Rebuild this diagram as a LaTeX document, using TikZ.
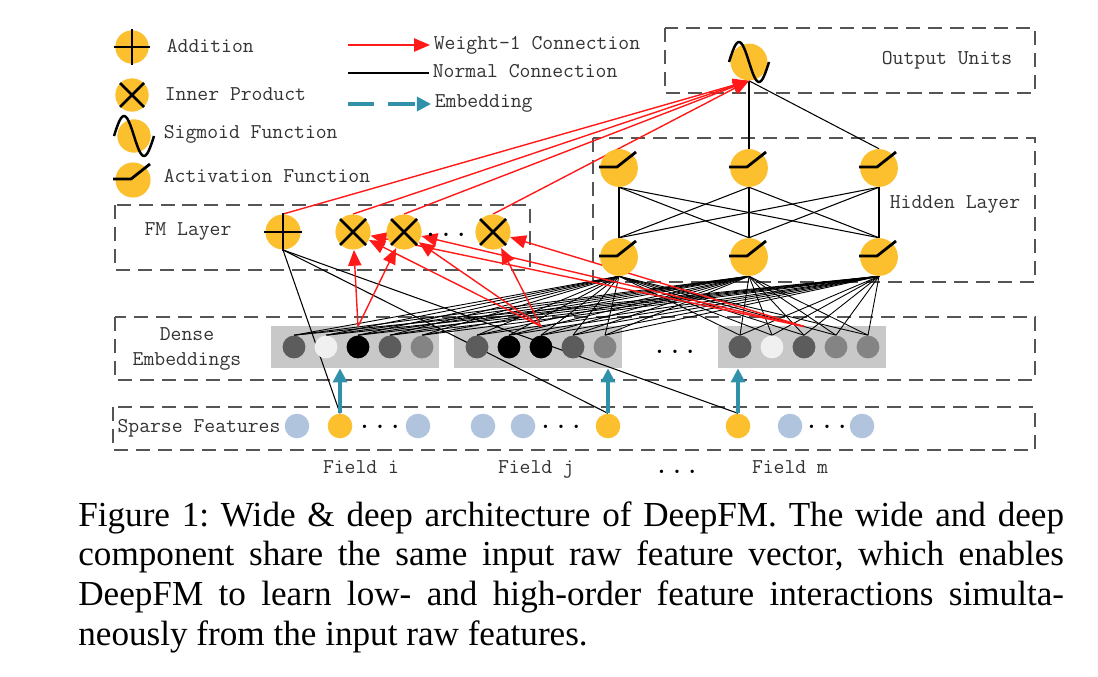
\documentclass[tikz,border=0pt]{standalone}
\usepackage{fontspec}
\newfontfamily\capfont{Liberation Serif}
\newcommand\labelfont{\ttfamily}
\usetikzlibrary{arrows.meta}

\definecolor{dfyellow}{RGB}{252,191,45}
\definecolor{dfred}{RGB}{255,25,25}
\definecolor{dfteal}{RGB}{50,145,170}
\definecolor{dfblue}{RGB}{176,196,222}
\definecolor{framegray}{RGB}{85,85,85}
\definecolor{embgray}{RGB}{200,200,200}
\definecolor{dkg}{RGB}{92,92,92}
\definecolor{mdg}{RGB}{132,132,132}
\definecolor{plg}{RGB}{240,240,240}

\pgfdeclarelayer{bg}
\pgfdeclarelayer{wires}
\pgfsetlayers{bg,wires,main}

\tikzset{
  yunit/.style={circle, fill=dfyellow, inner sep=0pt, minimum size=#1},
  yunit/.default=20pt,
  sym/.style={draw=black, line width=1.6pt},
  densecirc/.style={circle, inner sep=0pt, minimum size=13pt},
  sparsecirc/.style={circle, inner sep=0pt, minimum size=14pt},
  embgroup/.style={fill=embgray, inner sep=0pt, minimum width=96pt, minimum height=24pt},
  layerbox/.style={draw=framegray, line width=1.3pt, dash pattern=on 8pt off 4.5pt},
  txt/.style={font=\labelfont\fontsize{12}{14}\selectfont, text=black!80, inner sep=2pt, text height=8pt, text depth=1.5pt},
  dotsnode/.style={font=\labelfont\fontsize{17}{17}\selectfont, inner sep=0pt},
  plainwire/.style={draw=black, line width=0.6pt},
  weightwire/.style={draw=dfred, line width=0.8pt, -{Triangle[length=9pt,width=7.5pt]}},
  embedwire/.style={draw=dfteal, line width=1.8pt, -{Triangle[length=8pt,width=8pt]}},
  capnode/.style={font=\capfont\fontsize{20}{22.7}\selectfont\frenchspacing, text width=561pt, align=justify, inner sep=0pt},
}

% symbols drawn on top of the yellow units
\newcommand\addsym[2]{\draw[sym, shift={(#1)}] (-#2,0) -- (#2,0) (0,-#2) -- (0,#2);}
\newcommand\mulsym[2]{\draw[sym, shift={(#1)}] (-#2,-#2) -- (#2,#2) (-#2,#2) -- (#2,-#2);}
\newcommand\sigsym[2]{\draw[sym, line width=1.4pt, shift={(#1)}] plot[domain=-#2:#2, samples=31, smooth] (\x,{-#2*sin(180*(\x/#2+1))});}
\newcommand\actsym[2]{\draw[sym, line join=round, shift={(#1)}] (-#2-1,-1) -- (-2,-1) -- (#2-2,-#2+3);}

\begin{document}
\begin{tikzpicture}[x=0.02cm, y=-0.02cm]
\useasboundingbox (0,0) rectangle (1098,676);

% legend
\node[yunit=19pt] (lgadd) at (132,47) {};
\node[yunit=19pt] (lgmul) at (132,95) {};
\node[yunit=19pt] (lgsig) at (134,136) {};
\node[yunit=20pt] (lgact) at (133,180) {};
\addsym{lgadd}{18}
\mulsym{lgmul}{12}
\sigsym{lgsig}{20}
\actsym{lgact}{19}
\node[txt, anchor=west] (lgaddtxt) at (163,47) {Addition};
\node[txt, anchor=west] (lgmultxt) at (161,95) {Inner Product};
\node[txt, anchor=west] (lgsigtxt) at (160,133) {Sigmoid Function};
\node[txt, anchor=west] (lgacttxt) at (160,177) {Activation Function};

\coordinate (lgw) at (348,45);
\coordinate (lgn) at (348,73);
\coordinate (lge) at (348,104);
\node[txt, anchor=west] (lgwtxt) at (430,44) {Weight-1 Connection};
\node[txt, anchor=west] (lgntxt) at (429,72) {Normal Connection};
\node[txt, anchor=west] (lgetxt) at (431,102) {Embedding};
\draw[weightwire] (lgw) -- (lgw -| lgwtxt.west);
\draw[plainwire, line width=1.2pt] (lgn) -- (lgn -| lgntxt.west);
\draw[embedwire, dash pattern=on 15pt off 8pt] (lge) -- (lge -| lgetxt.west);

% layer frames
\begin{pgfonlayer}{bg}
  \draw[layerbox] (665,28) rectangle (1035,93);
  \draw[layerbox] (593,138) rectangle (1035,282);
  \draw[layerbox] (115,205) rectangle (530,270);
  \draw[layerbox] (115,317) rectangle (1035,380);
  \draw[layerbox] (113,407) rectangle (1035,450);
\end{pgfonlayer}
\node[txt] (outlbl) at (947,59) {Output Units};
\node[txt] (hidlbl) at (955,203) {Hidden Layer};
\node[txt] (fmlbl) at (188,230) {FM Layer};
\node[font=\labelfont\fontsize{12}{14}\selectfont, text=black!80, align=center] (denselbl) at (187,349) {Dense\\Embeddings};
\node[txt] (sparselbl) at (199,427) {Sparse Features};

% output and hidden units
\node[yunit=21pt] (out) at (749,62) {};
\sigsym{out}{20}
\foreach \x [count=\i] in {619,749,879} {
  \node[yunit=21.5pt] (ht\i) at (\x,168) {};
  \node[yunit=21.5pt] (hb\i) at (\x,257) {};
  \actsym{ht\i}{19}
  \actsym{hb\i}{19}
}

% FM layer
\node[yunit=20pt] (fmadd) at (283,232) {};
\addsym{fmadd}{19}
\foreach \x [count=\i] in {353,404,493} {
  \node[yunit=20pt] (fmip\i) at (\x,232) {};
  \mulsym{fmip\i}{13}
}
\node[dotsnode] (fmdots) at (446,235) {...};

% dense embeddings
\begin{pgfonlayer}{bg}
  \node[embgroup] (g1) at (355,347) {};
  \node[embgroup] (g2) at (538,347) {};
  \node[embgroup] (g3) at (802,347) {};
\end{pgfonlayer}
\foreach \x/\c [count=\i] in {294/dkg, 326/plg, 358/black, 390/dkg, 422/mdg,
    477/dkg, 509/black, 541/black, 573/dkg, 605/mdg,
    740/dkg, 772/plg, 804/dkg, 836/mdg, 868/mdg}
  \node[densecirc, fill=\c] (e\i) at (\x,347) {};
\node[dotsnode] (densedots) at (675,352) {...};

% sparse features
\foreach \x [count=\i] in {297,418,483,523,790,862}
  \node[sparsecirc, fill=dfblue] (sp\i) at (\x,426) {};
\node[sparsecirc, fill=dfyellow] (fi) at (340,426) {};
\node[sparsecirc, fill=dfyellow] (fj) at (608,426) {};
\node[sparsecirc, fill=dfyellow] (fm) at (738,426) {};
\node[dotsnode] (spdots1) at (380,427) {...};
\node[dotsnode] (spdots2) at (561,427) {...};
\node[dotsnode] (spdots3) at (827,427) {...};

\node[txt] (fieldi) at (361,468) {Field i};
\node[txt] (fieldj) at (536,468) {Field j};
\node[dotsnode] (fielddots) at (677,472) {...};
\node[txt] (fieldm) at (790,468) {Field m};

% connections
\begin{pgfonlayer}{wires}
  \foreach \i in {1,2,3}
    \foreach \e in {1,...,15}
      \draw[plainwire, line width=0.5pt] (hb\i.south) -- (e\e.north);
  \foreach \i in {1,2,3}
    \foreach \j in {1,2,3}
      \draw[plainwire] (hb\i.north) -- (ht\j.south);
  \draw[plainwire] (out.south) -- (ht2.north);
  \draw[plainwire] (out.south) -- (ht3.north);
  \foreach \f in {fi,fj,fm}
    \draw[plainwire] (fmadd.south) -- (\f.north);

  \coordinate (src1) at ([yshift=5pt]e3.north);
  \coordinate (src2) at ([yshift=5pt]e8.north);
  \coordinate (src3) at ([yshift=5pt]e13.north);
  \foreach \t in {1,2}
    \draw[weightwire] (src1) -- (fmip\t);
  \foreach \s in {2,3}
    \foreach \t in {1,2,3}
      \draw[weightwire] (src\s) -- (fmip\t);
  \draw[weightwire] (fmadd.north) -- (out.south);
  \foreach \t in {1,2,3}
    \draw[weightwire] (fmip\t.north) -- (out.south);

  \foreach \f/\g in {fi/g1, fj/g2, fm/g3}
    \draw[embedwire] (\f) -- (\f |- \g.south);
\end{pgfonlayer}

% caption
\node[capnode, anchor=base west] (caption) at (78,526) {Figure 1: Wide \& deep architecture of DeepFM. The wide and deep\linebreak component share the same input raw feature vector, which enables\linebreak DeepFM to learn low- and high-order feature interactions simulta-\linebreak neously from the input raw features.};
\end{tikzpicture}
\end{document}
